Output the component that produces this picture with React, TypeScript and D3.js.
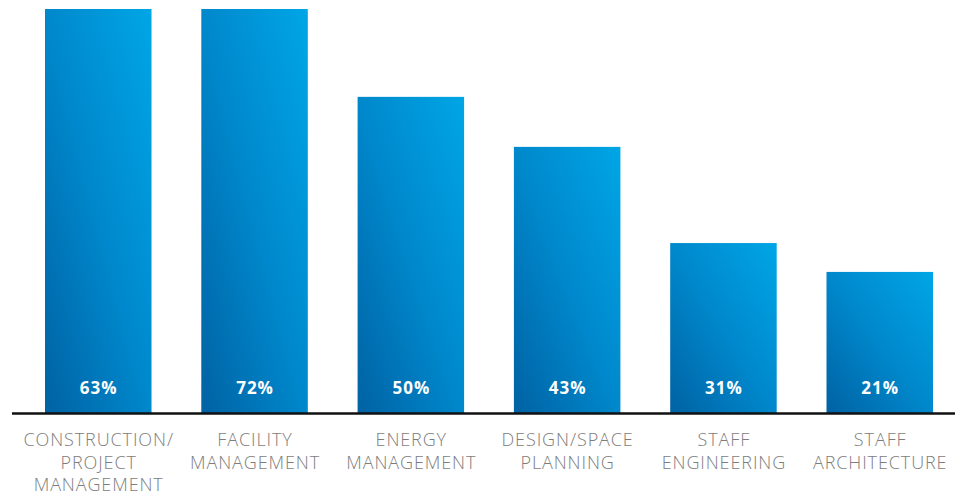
import React from "react";
import * as d3 from "d3";

const categories: string[][] = [
  ["CONSTRUCTION/", "PROJECT", "MANAGEMENT"],
  ["FACILITY", "MANAGEMENT"],
  ["ENERGY", "MANAGEMENT"],
  ["DESIGN/SPACE", "PLANNING"],
  ["STAFF", "ENGINEERING"],
  ["STAFF", "ARCHITECTURE"],
];
const shareLabels: number[] = [63, 72, 50, 43, 31, 21];
// bar heights as drawn in the picture (in the same percent units, clipped at the top)
const barLevels: number[] = [63, 72, 49.3, 41.5, 26.5, 22];

const W = 962;
const H = 493;
const baseY = 413;
const topY = 9;

export default function App() {
  const keys = categories.map((c) => c.join(" "));
  const x = d3
    .scaleBand<string>()
    .domain(keys)
    .range([45, 933])
    .paddingInner(0.3186)
    .paddingOuter(0);
  const y = d3.scaleLinear().domain([0, 63]).range([baseY, topY]).clamp(true);

  return (
    <svg
      width={W}
      height={H}
      style={{ position: "absolute", left: 0, top: 0 }}
      viewBox={`0 0 ${W} ${H}`}
    >
      <defs>
        <linearGradient id="barGrad" x1="0" y1="1" x2="1" y2="0">
          <stop offset="0" stopColor="#0062A3" />
          <stop offset="0.5" stopColor="#0088CC" />
          <stop offset="1" stopColor="#00A6E6" />
        </linearGradient>
      </defs>
      {keys.map((k, i) => {
        const bx = x(k)!;
        const bw = x.bandwidth();
        const by = y(barLevels[i]);
        const cx = bx + bw / 2;
        return (
          <g key={k}>
            <rect
              x={bx}
              y={by}
              width={bw}
              height={baseY - by}
              fill="url(#barGrad)"
            />
            <text
              x={cx + 0.5}
              y={394}
              textAnchor="middle"
              fill="#ffffff"
              fontFamily="'Open Sans', sans-serif"
              fontWeight={700}
              fontSize={17}
              letterSpacing={1}
            >
              {shareLabels[i]}%
            </text>
            {categories[i].map((line, j) => (
              <text
                key={j}
                x={cx + 0.45}
                y={446 + j * 22.5}
                textAnchor="middle"
                fill="#7d7d7d"
                fontFamily="'Open Sans', sans-serif"
                fontWeight={300}
                fontSize={18}
                letterSpacing={0.9}
              >
                {line}
              </text>
            ))}
          </g>
        );
      })}
      <line x1={12} x2={955} y1={413.5} y2={413.5} stroke="#111" strokeWidth={2.5} />
    </svg>
  );
}
